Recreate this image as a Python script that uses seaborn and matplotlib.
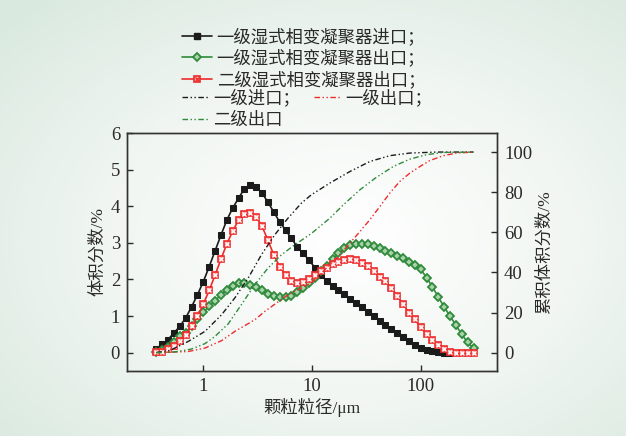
import numpy as np
import pandas as pd
import matplotlib
matplotlib.use("Agg")
import matplotlib.pyplot as plt
from matplotlib.lines import Line2D
from matplotlib.colors import LinearSegmentedColormap
from matplotlib.ticker import FixedLocator, FixedFormatter, NullLocator
import seaborn as sns

# ---------------- data ----------------
size_um = [0.372, 0.421, 0.477, 0.540, 0.612, 0.693, 0.784, 0.888, 1.006, 1.139,
           1.290, 1.461, 1.654, 1.873, 2.121, 2.402, 2.720, 3.080, 3.488, 3.950,
           4.473, 5.065, 5.736, 6.495, 7.355, 8.329, 9.432, 10.68, 12.09, 13.70,
           15.51, 17.56, 19.89, 22.52, 25.50, 28.88, 32.70, 37.03, 41.94, 47.49,
           53.78, 60.90, 68.96, 78.09, 88.43, 100.1, 113.4, 128.4, 145.4, 164.7,
           186.5, 211.2, 239.1, 270.8, 306.6]

inlet1 = [0.11, 0.23, 0.36, 0.54, 0.72, 0.95, 1.25, 1.58, 1.94, 2.35,
          2.78, 3.21, 3.62, 3.95, 4.22, 4.48, 4.57, 4.52, 4.36, 4.11,
          3.84, 3.57, 3.35, 3.12, 2.89, 2.71, 2.53, 2.32, 2.12, 1.96,
          1.81, 1.70, 1.60, 1.48, 1.36, 1.24, 1.11, 0.99, 0.87, 0.76,
          0.65, 0.53, 0.42, 0.32, 0.22, 0.14, 0.08, 0.04, 0.01, 0.00,
          0.00]

outlet1 = [0.02, 0.06, 0.16, 0.29, 0.45, 0.55, 0.72, 0.92, 1.10, 1.27,
           1.42, 1.58, 1.72, 1.83, 1.90, 1.91, 1.85, 1.79, 1.70, 1.61,
           1.55, 1.51, 1.51, 1.56, 1.65, 1.76, 1.90, 2.05, 2.22, 2.38,
           2.55, 2.71, 2.85, 2.94, 2.98, 2.98, 2.96, 2.91, 2.85, 2.78,
           2.71, 2.65, 2.58, 2.49, 2.40, 2.28, 2.05, 1.80, 1.52, 1.25,
           1.00, 0.75, 0.50, 0.28, 0.12]

outlet2 = [0.02, 0.03, 0.09, 0.19, 0.32, 0.49, 0.72, 0.99, 1.33, 1.70,
           2.12, 2.55, 2.97, 3.32, 3.62, 3.80, 3.82, 3.71, 3.45, 3.07,
           2.67, 2.35, 2.12, 1.97, 1.90, 1.93, 2.01, 2.11, 2.22, 2.31,
           2.41, 2.49, 2.53, 2.55, 2.52, 2.46, 2.37, 2.24, 2.08, 1.95,
           1.77, 1.55, 1.33, 1.09, 0.91, 0.69, 0.51, 0.36, 0.20, 0.09,
           0.02, 0.00, 0.00, 0.00, 0.00]

cum_in1_x = [0.372, 0.5, 0.73, 1.04, 1.48, 1.96, 2.6, 3.44, 4.57, 6.05, 8.04, 9.9,
             14.7, 22.4, 34.2, 52.2, 79.6, 140, 306.6]
cum_in1 = [0.1, 1.2, 5.6, 10.6, 18.9, 27.3, 37.2, 48.8, 58.8, 67.1, 74.6, 78.7,
           84.6, 90.3, 95.3, 98.2, 99.5, 100, 100]

cum_out2_x = [0.372, 0.55, 0.78, 1.04, 1.28, 1.70, 2.25, 2.99, 3.96, 5.26, 6.98, 9.9,
              14.7, 19.5, 27.7, 39.4, 56.1, 79.8, 113.5, 162, 306.6]
cum_out2 = [0.0, 0.4, 1.8, 4.5, 8.0, 14.3, 23.9, 33.9, 42.2, 48.8, 53.8, 59.4,
            67.1, 73.7, 81.2, 87.5, 92.8, 96.5, 98.7, 99.8, 100]

cum_out1_x = [0.372, 0.73, 1.04, 1.48, 1.96, 2.99, 3.7, 6.05, 9.9, 18.1, 22.4, 27.7,
              34.2, 42.3, 52.2, 64.5, 79.6, 98.6, 122, 162, 214, 306.6]
cum_out1 = [0.0, 0.6, 2.3, 6.0, 10.6, 16.4, 20.6, 28.9, 34.7, 48.8, 54.6, 60.4,
            66.3, 72.9, 79.6, 85.4, 89.5, 92.8, 95.8, 98.2, 99.5, 100]

x_ticks = [1, 10, 100]
x_ticklabels = ["1", "10", "100"]
labels_freq = ["一级湿式相变凝聚器进口；", "一级湿式相变凝聚器出口；", "二级湿式相变凝聚器出口；"]
labels_cum = ["一级进口；", "一级出口；", "二级出口"]
x_label = "颗粒粒径/μm"
y_label = "体积分数/%"
y2_label = "累积体积分数/%"

# ---------------- style ----------------
sns.set_theme(style="ticks")
FAM = ["Liberation Serif", "Noto Sans CJK SC", "DejaVu Sans"]
CJK = ["Noto Sans CJK SC", "DejaVu Sans"]
plt.rcParams["font.family"] = FAM
plt.rcParams["axes.unicode_minus"] = False

BLACK = "#1b1b1b"
GREEN = "#2f8a3b"
RED = "#ee2b2b"
RED_FACE = "#f7a8a8"
GREEN_FACE = "#a9d3ab"
TXT = "#2a2a2a"
DD = (0, (4, 1.8, 1, 1.8, 1, 1.8))

fig = plt.figure(figsize=(6.26, 4.36), dpi=100)

# soft radial background
bg = fig.add_axes([0, 0, 1, 1], zorder=-10)
yy, xx = np.mgrid[0:1:220j, 0:1:320j]
rr = np.sqrt(((xx - 0.55) / 0.75) ** 2 + ((yy - 0.45) / 0.75) ** 2)
cmap = LinearSegmentedColormap.from_list("bg", ["#ffffff", "#f1f6f2", "#d9e9df"])
bg.imshow(np.clip(rr, 0, 1), cmap=cmap, aspect="auto", extent=[0, 1, 0, 1],
          vmin=0, vmax=1, origin="lower")
bg.axis("off")

ax = fig.add_axes([127 / 626, 1 - 371 / 436, (497 - 127) / 626, (371 - 133) / 436])
ax.set_facecolor("none")

df_in1 = pd.DataFrame({"d": size_um[:len(inlet1)], "v": inlet1})
df_out1 = pd.DataFrame({"d": size_um[:len(outlet1)], "v": outlet1})
df_out2 = pd.DataFrame({"d": size_um[:len(outlet2)], "v": outlet2})

sns.lineplot(data=df_in1, x="d", y="v", ax=ax, color=BLACK, lw=1.2, marker="s",
             markersize=5.0, markerfacecolor=BLACK, markeredgecolor=BLACK, zorder=3)
sns.lineplot(data=df_out1, x="d", y="v", ax=ax, color=GREEN, lw=1.2, marker="D",
             markersize=4.0, markerfacecolor=GREEN_FACE, markeredgecolor=GREEN,
             markeredgewidth=1.3, zorder=4)
sns.lineplot(data=df_out2, x="d", y="v", ax=ax, color=RED, lw=1.2, marker="s",
             markersize=4.8, markerfacecolor=RED_FACE, markeredgecolor=RED,
             markeredgewidth=1.2, zorder=5)
sns.lineplot(data=df_out2, x="d", y="v", ax=ax, color=RED, linestyle="none", marker="x",
             markersize=2.8, markeredgewidth=0.9, zorder=6)

ax2 = ax.twinx()
ax2.set_facecolor("none")
sns.lineplot(x=cum_in1_x, y=cum_in1, ax=ax2, color=BLACK, lw=1.0, linestyle=DD)
sns.lineplot(x=cum_out1_x, y=cum_out1, ax=ax2, color=RED, lw=1.0, linestyle=DD)
sns.lineplot(x=cum_out2_x, y=cum_out2, ax=ax2, color=GREEN, lw=1.0, linestyle=DD)

ax.set_xscale("log")
ax2.set_xscale("log")
ax.set_xlim(0.2, 504)
ax.set_ylim(-0.5, 6)
ax2.set_ylim(-9.12, 109.5)
ax.xaxis.set_major_locator(FixedLocator(x_ticks))
ax.xaxis.set_major_formatter(FixedFormatter(x_ticklabels))
ax.xaxis.set_minor_locator(NullLocator())
ax.set_yticks([0, 1, 2, 3, 4, 5, 6])
ax2.set_yticks([0, 20, 40, 60, 80, 100])
for a in (ax, ax2):
    a.tick_params(direction="in", length=4.5, width=1.0, labelsize=13.5, colors=TXT,
                  pad=5)
    for s in a.spines.values():
        s.set_linewidth(1.0)
        s.set_color("#333333")
ax2.tick_params(axis="x", which="both", bottom=False, top=False, labelbottom=False)
ax.set_xlabel(x_label, fontsize=12.5, labelpad=2, color=TXT)
ax.set_ylabel(y_label, fontsize=12.5, labelpad=3, color=TXT)
ax2.set_ylabel(y2_label, fontsize=12.5, labelpad=3, color=TXT)

# ---------------- legends ----------------
h_black = Line2D([], [], color=BLACK, lw=1.2, marker="s", markersize=5.0,
                 markerfacecolor=BLACK)
h_green = Line2D([], [], color=GREEN, lw=1.2, marker="D", markersize=4.0,
                 markerfacecolor=GREEN_FACE, markeredgecolor=GREEN, markeredgewidth=1.3)
h_red_a = Line2D([], [], color=RED, lw=1.2, marker="s", markersize=4.8,
                 markerfacecolor=RED_FACE, markeredgecolor=RED, markeredgewidth=1.2)
h_red_b = Line2D([], [], color=RED, linestyle="none", marker="x", markersize=2.8,
                 markeredgewidth=0.9)
leg1 = fig.legend([h_black, h_green, (h_red_a, h_red_b)], labels_freq,
                  loc="upper left", bbox_to_anchor=(182 / 626, 1 - 28 / 436),
                  frameon=False, handlelength=1.7, handletextpad=0.3,
                  labelspacing=0.2, borderpad=0, borderaxespad=0,
                  prop={"family": CJK, "size": 12.5})
for t in leg1.get_texts():
    t.set_color(TXT)

hc_black = Line2D([], [], color=BLACK, lw=1.0, linestyle=DD)
hc_red = Line2D([], [], color=RED, lw=1.0, linestyle=DD)
hc_green = Line2D([], [], color=GREEN, lw=1.0, linestyle=DD)
leg2 = fig.legend([hc_black, hc_green, hc_red], [labels_cum[0], labels_cum[2], labels_cum[1]],
                  loc="upper left", bbox_to_anchor=(182 / 626, 1 - 89 / 436),
                  ncol=2, handlelength=1.5, handletextpad=0.3, frameon=False,
                  labelspacing=0.22, columnspacing=0.8, borderpad=0, borderaxespad=0,
                  prop={"family": CJK, "size": 12.5})
for t in leg2.get_texts():
    t.set_color(TXT)

fig.savefig("out.png", dpi=100)
